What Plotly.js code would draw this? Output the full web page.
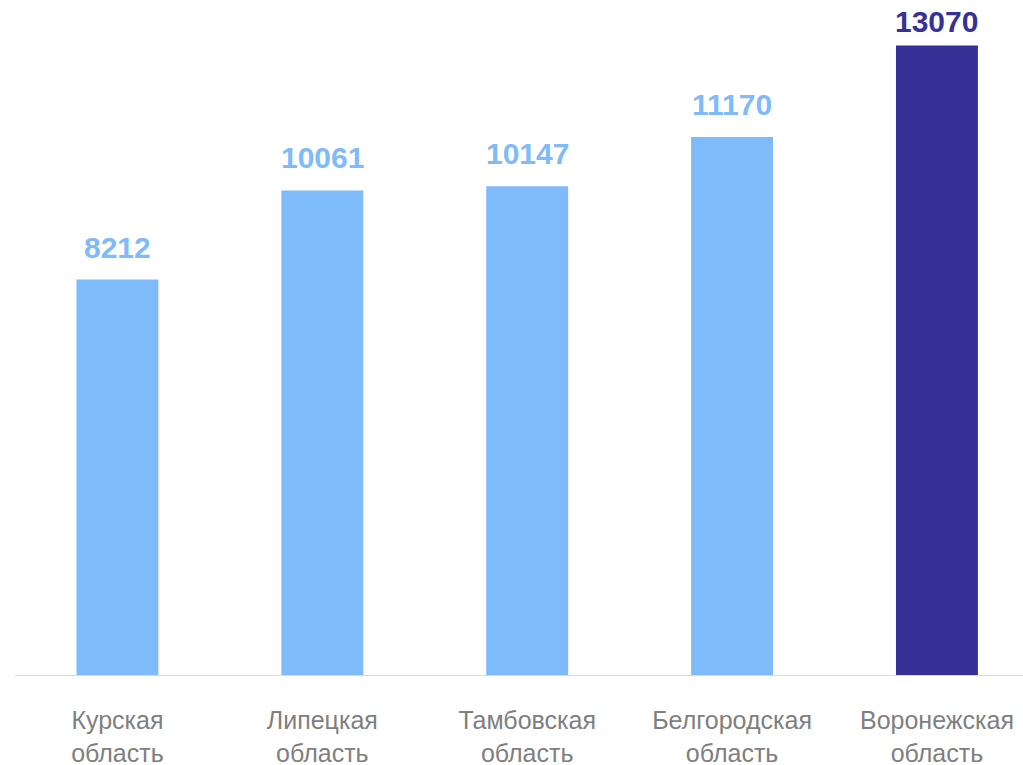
<!DOCTYPE html>
<html>
<head>
<meta charset="utf-8">
<script src="https://cdn.plot.ly/plotly-3.0.1.min.js"></script>
<style>html,body{margin:0;padding:0;background:#fff;overflow:hidden}#chart{width:1023px;height:765px}</style>
</head>
<body>
<div id="chart"></div>
<script>
const categories = ["Курская<br>область", "Липецкая<br>область", "Тамбовская<br>область", "Белгородская<br>область", "Воронежская<br>область"];
const values = [8212, 10061, 10147, 11170, 13070];
const barColors = ["#7fbbfa", "#7fbbfa", "#7fbbfa", "#7fbbfa", "#363196"];
const labelColors = ["#7fbaf9", "#7fbaf9", "#7fbaf9", "#7fbaf9", "#363196"];

const yMax = 13600;
const plotTop = 20, plotH = 655;

const trace = {
  type: "bar",
  x: categories,
  y: values,
  marker: {color: barColors},
  width: 0.4,
  hoverinfo: "none"
};

const annotations = values.map((v, i) => {
  const barTopPx = plotTop + plotH * (1 - v / yMax);
  const shift = Math.min(14, barTopPx - 40);
  return {
    x: categories[i], y: v, xref: "x", yref: "y",
    text: "<b>" + v + "</b>",
    showarrow: false, yanchor: "bottom", yshift: shift,
    font: {family: "Liberation Sans, Arial, sans-serif", size: 30, color: labelColors[i]}
  };
});

const layout = {
  width: 1023, height: 765,
  margin: {l: 15, r: 0, t: plotTop, b: 90},
  paper_bgcolor: "#fff", plot_bgcolor: "#fff",
  showlegend: false,
  bargap: 0.6,
  xaxis: {
    type: "category",
    range: [-0.5, 4.42],
    showline: true, linecolor: "#d9d9d9", linewidth: 1,
    showgrid: false, zeroline: false,
    ticks: "", ticklabelstandoff: 23,
    tickfont: {family: "Liberation Sans, Arial, sans-serif", size: 25, color: "#7f7f7f"}
  },
  yaxis: {
    range: [0, yMax],
    visible: false, showgrid: false, zeroline: false
  },
  annotations: annotations
};

Plotly.newPlot("chart", [trace], layout, {displayModeBar: false, staticPlot: true});
</script>
</body>
</html>
